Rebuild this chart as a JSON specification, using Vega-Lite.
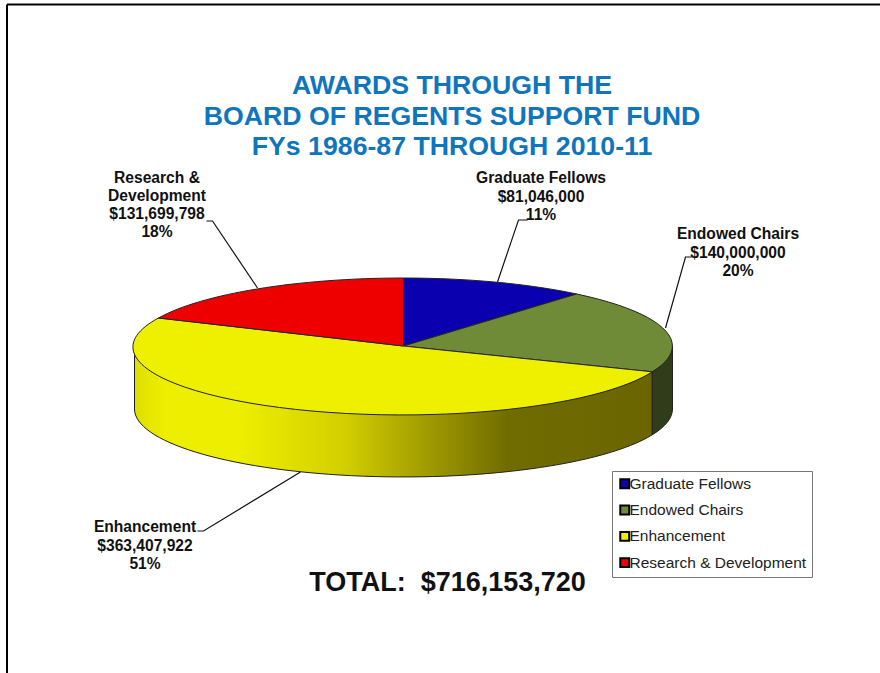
{
"$schema":"https://vega.github.io/schema/vega-lite/v6.json",
"width":880,"height":673,"padding":0,"autosize":{"type":"none"},
"background":"white",
"view":{"stroke":null},
"resolve":{"scale":{"shape":"independent"}},
"title":{"text":["AWARDS THROUGH THE","BOARD OF REGENTS SUPPORT FUND","FYs 1986-87 THROUGH 2010-11"],"anchor":"middle","frame":"group","baseline":"middle","offset":0,"dx":12,"dy":174,"font":"Liberation Sans","fontWeight":"bold","fontSize":26.7,"lineHeight":30.5,"color":"#0F75BD"},
"data":{"values":[
{"category":"Graduate Fellows","amount":81046000,"percent":11,"label":"Graduate Fellows\n$81,046,000\n11%"},
{"category":"Endowed Chairs","amount":140000000,"percent":20,"label":"Endowed Chairs\n$140,000,000\n20%"},
{"category":"Enhancement","amount":363407922,"percent":51,"label":"Enhancement\n$363,407,922\n51%"},
{"category":"Research & Development","amount":131699798,"percent":18,"label":"Research &\nDevelopment\n$131,699,798\n18%"}
]},
"layer":[
{"transform":[{"filter":"datum.category==='Graduate Fellows'"}],
 "mark":{"type":"rule","stroke":"#000","strokeWidth":2},
 "encoding":{"x":{"datum":7,"type":"quantitative","scale":{"domain":[0,880],"nice":false},"axis":null},"y":{"datum":4.5,"type":"quantitative","scale":{"domain":[0,673],"reverse":true,"nice":false},"axis":null},"x2":{"datum":880}}},
{"transform":[{"filter":"datum.category==='Graduate Fellows'"}],
 "mark":{"type":"rule","stroke":"#000","strokeWidth":2},
 "encoding":{"x":{"datum":7,"type":"quantitative","axis":null},"y":{"datum":4.5,"type":"quantitative","axis":null},"y2":{"datum":673}}},
{"mark":{"type":"square","opacity":1,"stroke":null},
 "encoding":{"x":{"datum":403,"type":"quantitative","axis":null},"y":{"datum":346,"type":"quantitative","axis":null},"size":{"value":1},
  "color":{"field":"category","type":"nominal","scale":{"domain":["Graduate Fellows","Endowed Chairs","Enhancement","Research & Development"],"range":["#0A00B0","#6F8B38","#EFEF00","#EE0000"]},
   "legend":{"title":null,"orient":"none","legendX":612,"legendY":471,"symbolType":"square","symbolSize":80,"symbolStrokeColor":"#000","symbolStrokeWidth":2,"symbolOpacity":1,"labelFont":"Liberation Sans","labelFontSize":15.5,"labelColor":"#222","labelLimit":300,"labelOffset":-3,"rowPadding":8.3,"padding":5,"strokeColor":"#777","fillColor":"#fff"}}}},
{"transform":[{"filter":"datum.category==='Enhancement'"}],
 "mark":{"type":"point","filled":true,"opacity":1,"stroke":"#222","strokeWidth":1,
  "shape":"M248.8 25.8A269 68 0 0 1 -269 0L-269 63A269 68 0 0 0 248.8 88.8Z",
  "fill":{"gradient":"linear","x1":0,"y1":0,"x2":1,"y2":0,"stops":[{"offset":0,"color":"#DEDE00"},{"offset":0.06,"color":"#EEEE00"},{"offset":0.2,"color":"#EEEE00"},{"offset":0.4,"color":"#D4D000"},{"offset":0.55,"color":"#A5A000"},{"offset":0.72,"color":"#716C00"},{"offset":1,"color":"#6A6500"}]}},
 "encoding":{"x":{"datum":403.5,"type":"quantitative","axis":null},"y":{"datum":346,"type":"quantitative","axis":null},"size":{"value":4}}},
{"transform":[{"filter":"datum.category==='Endowed Chairs'"}],
 "mark":{"type":"point","filled":true,"opacity":1,"stroke":"#222","strokeWidth":1,"fill":"#2F3D1A",
  "shape":"M269 0A269 68 0 0 1 248.8 25.8L248.8 88.8A269 68 0 0 0 269 63Z"},
 "encoding":{"x":{"datum":403.5,"type":"quantitative","axis":null},"y":{"datum":346,"type":"quantitative","axis":null},"size":{"value":4}}},
{"mark":{"type":"point","filled":true,"opacity":1,"stroke":"#222","strokeWidth":1},
 "encoding":{"x":{"datum":403.5,"type":"quantitative","axis":null},"y":{"datum":346,"type":"quantitative","axis":null},"size":{"value":4},
  "shape":{"field":"category","type":"nominal","legend":null,"scale":{"domain":["Graduate Fellows","Endowed Chairs","Enhancement","Research & Development"],"range":[
   "M0 0L0 -68A269 68 0 0 1 173.2 -52Z",
   "M0 0L173.2 -52A269 68 0 0 1 248.8 25.8Z",
   "M0 0L248.8 25.8A269 68 0 1 1 -245 -28Z",
   "M0 0L-245 -28A269 68 0 0 1 0 -68Z"]}},
  "color":{"field":"category","type":"nominal","legend":null}}},
{"mark":{"type":"point","filled":false,"opacity":1,"fill":null,"stroke":"#111","strokeWidth":1.2},
 "encoding":{"x":{"datum":403.5,"type":"quantitative","axis":null},"y":{"datum":346,"type":"quantitative","axis":null},"size":{"value":4},
  "shape":{"field":"category","type":"nominal","legend":null,"scale":{"domain":["Graduate Fellows","Endowed Chairs","Enhancement","Research & Development"],"range":[
   "M94 -64L115 -126L124 -126",
   "M262 -18L282 -89L288 -89",
   "M-103 126L-200 185L-206 185",
   "M-146 -58L-191 -125L-197 -125"]}}}},
{"transform":[{"filter":"datum.category==='Graduate Fellows'"}],
 "mark":{"type":"text","font":"Liberation Sans","fontWeight":"bold","fontSize":15.6,"lineHeight":18.5,"lineBreak":"\n","color":"#111","align":"center","baseline":"middle"},
 "encoding":{"x":{"datum":541,"type":"quantitative","axis":null},"y":{"datum":178,"type":"quantitative","axis":null},"text":{"field":"label"}}},
{"transform":[{"filter":"datum.category==='Endowed Chairs'"}],
 "mark":{"type":"text","font":"Liberation Sans","fontWeight":"bold","fontSize":15.6,"lineHeight":18.5,"lineBreak":"\n","color":"#111","align":"center","baseline":"middle"},
 "encoding":{"x":{"datum":738,"type":"quantitative","axis":null},"y":{"datum":234,"type":"quantitative","axis":null},"text":{"field":"label"}}},
{"transform":[{"filter":"datum.category==='Enhancement'"}],
 "mark":{"type":"text","font":"Liberation Sans","fontWeight":"bold","fontSize":15.6,"lineHeight":18.5,"lineBreak":"\n","color":"#111","align":"center","baseline":"middle"},
 "encoding":{"x":{"datum":145,"type":"quantitative","axis":null},"y":{"datum":527,"type":"quantitative","axis":null},"text":{"field":"label"}}},
{"transform":[{"filter":"datum.category==='Research & Development'"}],
 "mark":{"type":"text","font":"Liberation Sans","fontWeight":"bold","fontSize":15.6,"lineHeight":18,"lineBreak":"\n","color":"#111","align":"center","baseline":"middle"},
 "encoding":{"x":{"datum":157,"type":"quantitative","axis":null},"y":{"datum":178,"type":"quantitative","axis":null},"text":{"field":"label"}}},
{"transform":[{"filter":"datum.category==='Graduate Fellows'"}],
 "mark":{"type":"text","font":"Liberation Sans","fontWeight":"bold","fontSize":27,"color":"#111","align":"center","baseline":"middle","text":"TOTAL:\u00a0 $716,153,720"},
 "encoding":{"x":{"datum":447.5,"type":"quantitative","axis":null},"y":{"datum":583,"type":"quantitative","axis":null}}}
]
}
